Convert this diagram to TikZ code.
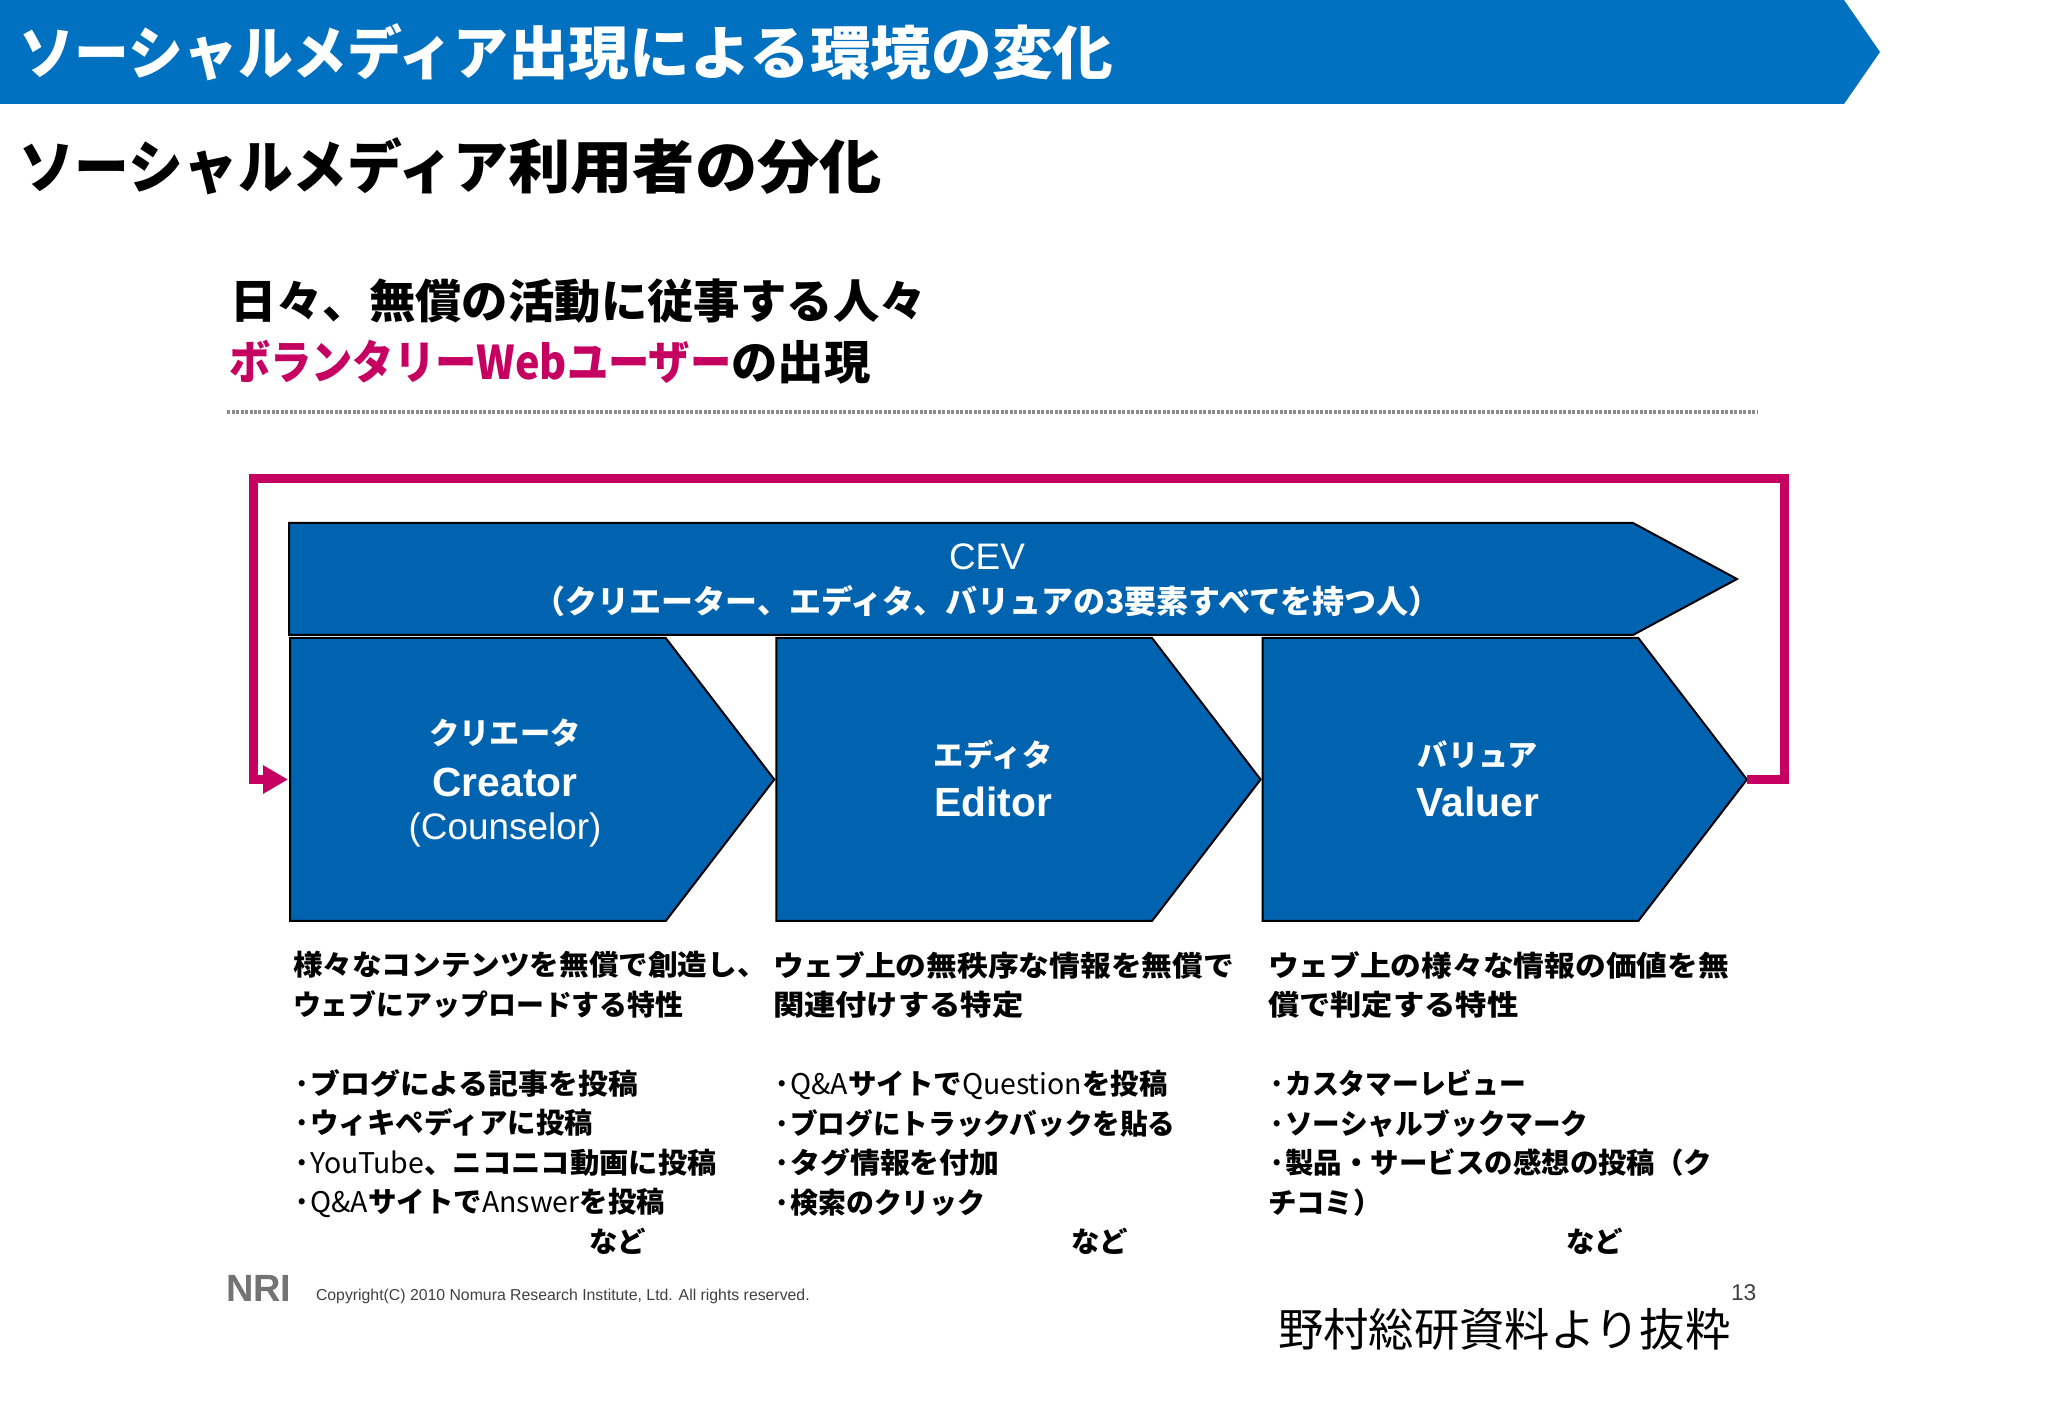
\documentclass[tikz,border=0pt]{standalone}
\usepackage{fontspec}
\setmainfont{Noto Sans CJK JP}
\newfontfamily\latinfont{Liberation Sans}
\usetikzlibrary{positioning}
\usetikzlibrary{arrows.meta}
\usetikzlibrary{shapes.symbols}

\definecolor{barblue}{HTML}{0070C0}
\definecolor{chevblue}{HTML}{0063AF}
\definecolor{loopred}{HTML}{C60060}

\newcommand{\sx}[2]{\scalebox{#1}[1]{#2}}
\newcommand{\lat}[1]{{\mdseries #1}}

\tikzset{
    plain/.style={inner sep=0, outer sep=0, anchor=west},
    titletext/.style={plain, font=\bfseries\fontsize{16.5}{20}\selectfont},
    headtext/.style={plain, font=\bfseries\fontsize{13.2}{16}\selectfont},
    chevron/.style={signal, signal to=east, signal from=nowhere, signal pointer angle=105, minimum width=4.843cm, minimum height=2.83cm, inner sep=0, outer sep=0, fill=chevblue, draw=black, line width=0.02cm},
    kana/.style={inner sep=0, outer sep=0, text=white, font=\bfseries\fontsize{8.6}{10}\selectfont},
    nameen/.style={inner sep=0, outer sep=0, text=white, font=\latinfont\bfseries\fontsize{11.6}{14}\selectfont},
    thinen/.style={inner sep=0, outer sep=0, text=white, font=\latinfont\fontsize{10.5}{12}\selectfont},
    column/.style={inner sep=0, outer sep=0, anchor=north west, align=left, font=\bfseries\fontsize{8.1}{11.24}\selectfont},
    etc/.style={plain, font=\bfseries\fontsize{8.1}{11.24}\selectfont},
    loopline/.style={draw=loopred, line width=0.09cm, -{Triangle[length=0.25cm,width=0.27cm]}, shorten >=0.02cm},
}

\begin{document}
\begin{tikzpicture}
    \useasboundingbox (0,0) rectangle (20.48,-14.18);

    % header
    \node [signal, signal to=east, signal from=nowhere, signal pointer angle=110.6, minimum width=18.8cm, minimum height=1.04cm, inner sep=0, outer sep=0, fill=barblue, anchor=west] (bar) at (0,-0.52) {};
    \node [titletext, text=white] (title) at (0.2,-0.52) {\sx{.945}{ソーシャルメディア}\sx{1.047}{出現による環境の変化}};
    \node [titletext] (subtitle) at (0.2,-1.66) {\sx{.945}{ソーシャルメディア}\sx{1.075}{利用者の分化}};

    \node [headtext] (head) at (2.3,-3.01) {日々、無償の活動に従事する人々};
    \node [headtext] (headtwo) at (2.29,-3.62) {\textcolor{loopred}{\sx{.89}{ボランタリーWebユーザー}}の出現};
    \coordinate (ruleleft) at (2.27,-4.12);
    \coordinate (ruleright) at (17.57,-4.12);
    \draw [black!45, line width=0.035cm, dash pattern=on 0.03cm off 0.015cm] (ruleleft) -- (ruleright);

    % chevrons
    \node [signal, signal to=east, signal from=nowhere, signal pointer angle=56.6, minimum width=14.48cm, minimum height=1.12cm, inner sep=0, outer sep=0, fill=chevblue, draw=black, line width=0.02cm, anchor=west] (cev) at (2.89,-5.79) {};
    \node [chevron, anchor=west] (creator) at (2.9,-7.795) {};
    \node [chevron, right=0.02cm of creator] (editor) {};
    \node [chevron, right=0.02cm of editor] (valuer) {};

    \node [thinen] (cevname) at (9.87,-5.57) {CEV};
    \node [inner sep=0, outer sep=0, text=white, font=\bfseries\fontsize{9.1}{11}\selectfont] (cevtext) at (9.87,-6.01) {（クリエーター、エディタ、バリュアの3要素すべてを持つ人）};

    \node [kana] (creatorkana) at (5.05,-7.33) {クリエータ};
    \node [nameen] (creatorname) at (5.05,-7.82) {Creator};
    \node [thinen] (counselor) at (5.05,-8.30) {(Counselor)};
    \node [kana] (editorkana) at (9.93,-7.55) {エディタ};
    \node [nameen] (editorname) at (9.93,-8.02) {Editor};
    \node [kana] (valuerkana) at (14.78,-7.55) {バリュア};
    \node [nameen] (valuername) at (14.78,-8.02) {Valuer};

    % feedback line
    \coordinate (loopright) at (17.84,-4.79);
    \coordinate (loopleft) at (2.535,-4.79);
    \draw [loopline] (valuer.east) -| (loopright) -- (loopleft) |- (creator.west);

    % descriptions
    \node [column] (creatordesc) at (2.93,-9.515) {\sx{1.04}{様々なコンテンツを無償で創造し、}\\\sx{.98}{ウェブにアップロードする特性}\\[\baselineskip]·\sx{1.05}{ブログによる記事を投稿}\\·ウィキペディアに投稿\\·\lat{YouTube}、\sx{1.03}{ニコニコ動画に投稿}\\·\lat{Q\&A}サイトで\lat{Answer}を投稿};
    \node [column] (editordesc) at (7.73,-9.515) {\sx{1.08}{ウェブ上の無秩序な情報を無償で}\\\sx{1.1}{関連付けする特定}\\[\baselineskip]·\lat{Q\&A}サイトで\lat{Question}を投稿\\·\sx{.97}{ブログにトラックバックを貼る}\\·\sx{1.05}{タグ情報を付加}\\·\sx{.98}{検索のクリック}};
    \node [column] (valuerdesc) at (12.68,-9.515) {\sx{1.08}{ウェブ上の様々な情報の価値を無}\\\sx{1.1}{償で判定する特性}\\[\baselineskip]·\sx{.94}{カスタマーレビュー}\\·\sx{.97}{ソーシャルブックマーク}\\·製品・サービスの感想の投稿（ク\\チコミ）};
    \node [etc] (creatoretc) at (5.89,-12.41) {など};
    \node [etc] (editoretc) at (10.71,-12.41) {など};
    \node [etc] (valueretc) at (15.66,-12.41) {など};

    % footer
    \node [plain, text=black!55, font=\latinfont\bfseries\fontsize{10.8}{12}\selectfont] (logo) at (2.26,-12.88) {NRI};
    \node [plain, text=black!75, font=\latinfont\fontsize{4.5}{5}\selectfont] (copyright) at (3.16,-12.96) {Copyright(C) 2010 Nomura Research Institute, Ltd. All rights reserved.};
    \node [plain, text=black!75, font=\latinfont\fontsize{6.5}{8}\selectfont] (pageno) at (17.31,-12.93) {13};
    \node [plain, font=\fontsize{12.9}{15}\selectfont] (source) at (12.78,-13.29) {野村総研資料より抜粋};
\end{tikzpicture}
\end{document}
